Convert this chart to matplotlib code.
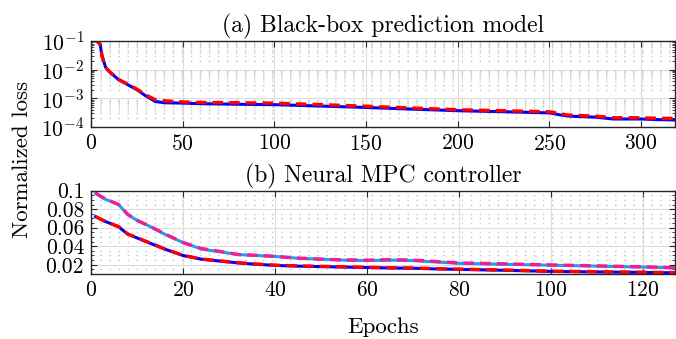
import matplotlib
matplotlib.use("Agg")
import matplotlib.pyplot as plt
from matplotlib.ticker import FixedLocator, FuncFormatter, LogLocator, NullFormatter

plt.rcParams.update({
    'font.family': 'serif',
    'font.serif': ['cmr10', 'DejaVu Serif'],
    'mathtext.fontset': 'cm',
    'axes.formatter.use_mathtext': True,
    'axes.unicode_minus': False,
    'font.size': 15,
})

# (a) black-box prediction model
epochs_a = [1, 4, 5, 6, 8, 10, 15, 20, 25, 30, 35, 40, 50, 60, 80, 100, 120, 150,
            175, 200, 225, 250, 255, 260, 275, 285, 300, 310, 320]
train_a = [0.12, 0.09, 0.075, 0.03, 0.012, 0.0085, 0.0045, 0.003, 0.002, 0.0012,
           0.00078, 0.0007, 0.00068, 0.00065, 0.00062, 0.0006, 0.00055, 0.00048,
           0.00042, 0.00037, 0.00034, 0.00031, 0.00027, 0.00024, 0.00022, 0.00019,
           0.00019, 0.00018, 0.000175]
val_a = [0.12, 0.09, 0.076, 0.03, 0.012, 0.0086, 0.0046, 0.0031, 0.0021, 0.0013,
         0.0009, 0.00082, 0.00075, 0.00072, 0.0007, 0.00068, 0.00062, 0.00053,
         0.00046, 0.0004, 0.00037, 0.00034, 0.0003, 0.00026, 0.00024, 0.00021,
         0.00021, 0.0002, 0.0002]

# (b) neural MPC controller
epochs_b = [1, 3, 6, 8, 10, 13, 16, 20, 24, 28, 32, 36, 40, 45, 50, 55, 60, 65,
            70, 75, 80, 90, 100, 110, 120, 127]
upper_train_b = [0.097, 0.091, 0.085, 0.074, 0.068, 0.061, 0.053, 0.044, 0.037,
                 0.034, 0.031, 0.030, 0.029, 0.027, 0.026, 0.025, 0.0245, 0.025,
                 0.0245, 0.023, 0.0215, 0.0205, 0.0195, 0.0185, 0.0175, 0.0165]
upper_val_b = [0.0975, 0.0915, 0.085, 0.0745, 0.068, 0.061, 0.0535, 0.044, 0.0375,
               0.0345, 0.031, 0.0302, 0.029, 0.0272, 0.026, 0.0252, 0.025, 0.0255,
               0.025, 0.0235, 0.022, 0.021, 0.0198, 0.0188, 0.0178, 0.0168]
lower_train_b = [0.072, 0.067, 0.061, 0.053, 0.049, 0.043, 0.037, 0.030, 0.026,
                 0.024, 0.022, 0.0205, 0.0193, 0.0185, 0.018, 0.0175, 0.017, 0.0165,
                 0.0162, 0.0155, 0.015, 0.014, 0.0128, 0.0122, 0.0117, 0.0113]
lower_val_b = [0.072, 0.067, 0.0612, 0.0532, 0.0492, 0.0432, 0.0372, 0.0302, 0.0262,
               0.0242, 0.0222, 0.0208, 0.0196, 0.0188, 0.0183, 0.0178, 0.0173,
               0.0168, 0.0165, 0.0158, 0.0153, 0.0143, 0.0131, 0.0125, 0.012, 0.0116]

fig = plt.figure(figsize=(6.76, 3.39), dpi=100)
ax1 = fig.add_axes([0.1346, 0.6254, 0.8640, 0.2537])
ax2 = fig.add_axes([0.1346, 0.1917, 0.8640, 0.2458])

dash = (0, (3.2, 1.8))
for ax in (ax1, ax2):
    ax.tick_params(which='both', direction='in', top=True, right=True,
                   color='#262626', labelsize=15.5, pad=5)
    ax.tick_params(which='major', length=4, width=0.8)
    ax.tick_params(which='minor', length=2, width=0.6)
    for s in ax.spines.values():
        s.set_color('#262626')
        s.set_linewidth(1.0)
    ax.set_axisbelow(True)
    ax.grid(True, which='major', color='#dcdcdc', linewidth=0.8)

# top panel
ax1.plot(epochs_a, train_a, color='#0000ff', linewidth=2.2)
ax1.plot(epochs_a, val_a, color='#ff0000', linewidth=2.4, linestyle=dash)
ax1.set_yscale('log')
ax1.set_ylim(1e-4, 1e-1)
ax1.set_xlim(0, 318.5)
ax1.set_xticks([0, 50, 100, 150, 200, 250, 300])
ax1.yaxis.set_major_locator(FixedLocator([1e-4, 1e-3, 1e-2, 1e-1]))
ax1.yaxis.set_minor_locator(LogLocator(base=10, subs=range(2, 10)))
ax1.yaxis.set_minor_formatter(NullFormatter())
ax1.grid(True, which='minor', axis='y', color='#c4c4c4', linewidth=1.0,
         linestyle=(0, (1, 5.5)))
ax1.set_title('(a) Black-box prediction model', fontsize=17, pad=6)

# bottom panel
ax2.plot(epochs_b, upper_train_b, color='#1ea0f0', linewidth=2.2)
ax2.plot(epochs_b, upper_val_b, color='#f01e96', linewidth=2.4, linestyle=dash)
ax2.plot(epochs_b, lower_train_b, color='#0000ff', linewidth=2.2)
ax2.plot(epochs_b, lower_val_b, color='#ff0000', linewidth=2.4, linestyle=dash)
ax2.set_xlim(0, 127)
ax2.set_ylim(0.01, 0.1)
ax2.set_xticks([0, 20, 40, 60, 80, 100, 120])
ax2.set_yticks([0.02, 0.04, 0.06, 0.08, 0.1])
ax2.yaxis.set_major_formatter(FuncFormatter(lambda v, p: '%g' % v))
ax2.set_yticks([0.015, 0.025, 0.03, 0.035, 0.045, 0.05, 0.055, 0.065, 0.07,
                0.075, 0.085, 0.09, 0.095], minor=True)
ax2.grid(True, which='minor', axis='y', color='#c4c4c4', linewidth=1.0,
         linestyle=(0, (1, 5.5)))
ax2.set_title('(b) Neural MPC controller', fontsize=17, pad=6)
ax2.set_xlabel('Epochs', fontsize=16.5, labelpad=12)

fig.text(0.033, 0.53, 'Normalized loss', rotation=90, fontsize=16.5,
         ha='center', va='center')

fig.savefig('out.png', dpi=100)
